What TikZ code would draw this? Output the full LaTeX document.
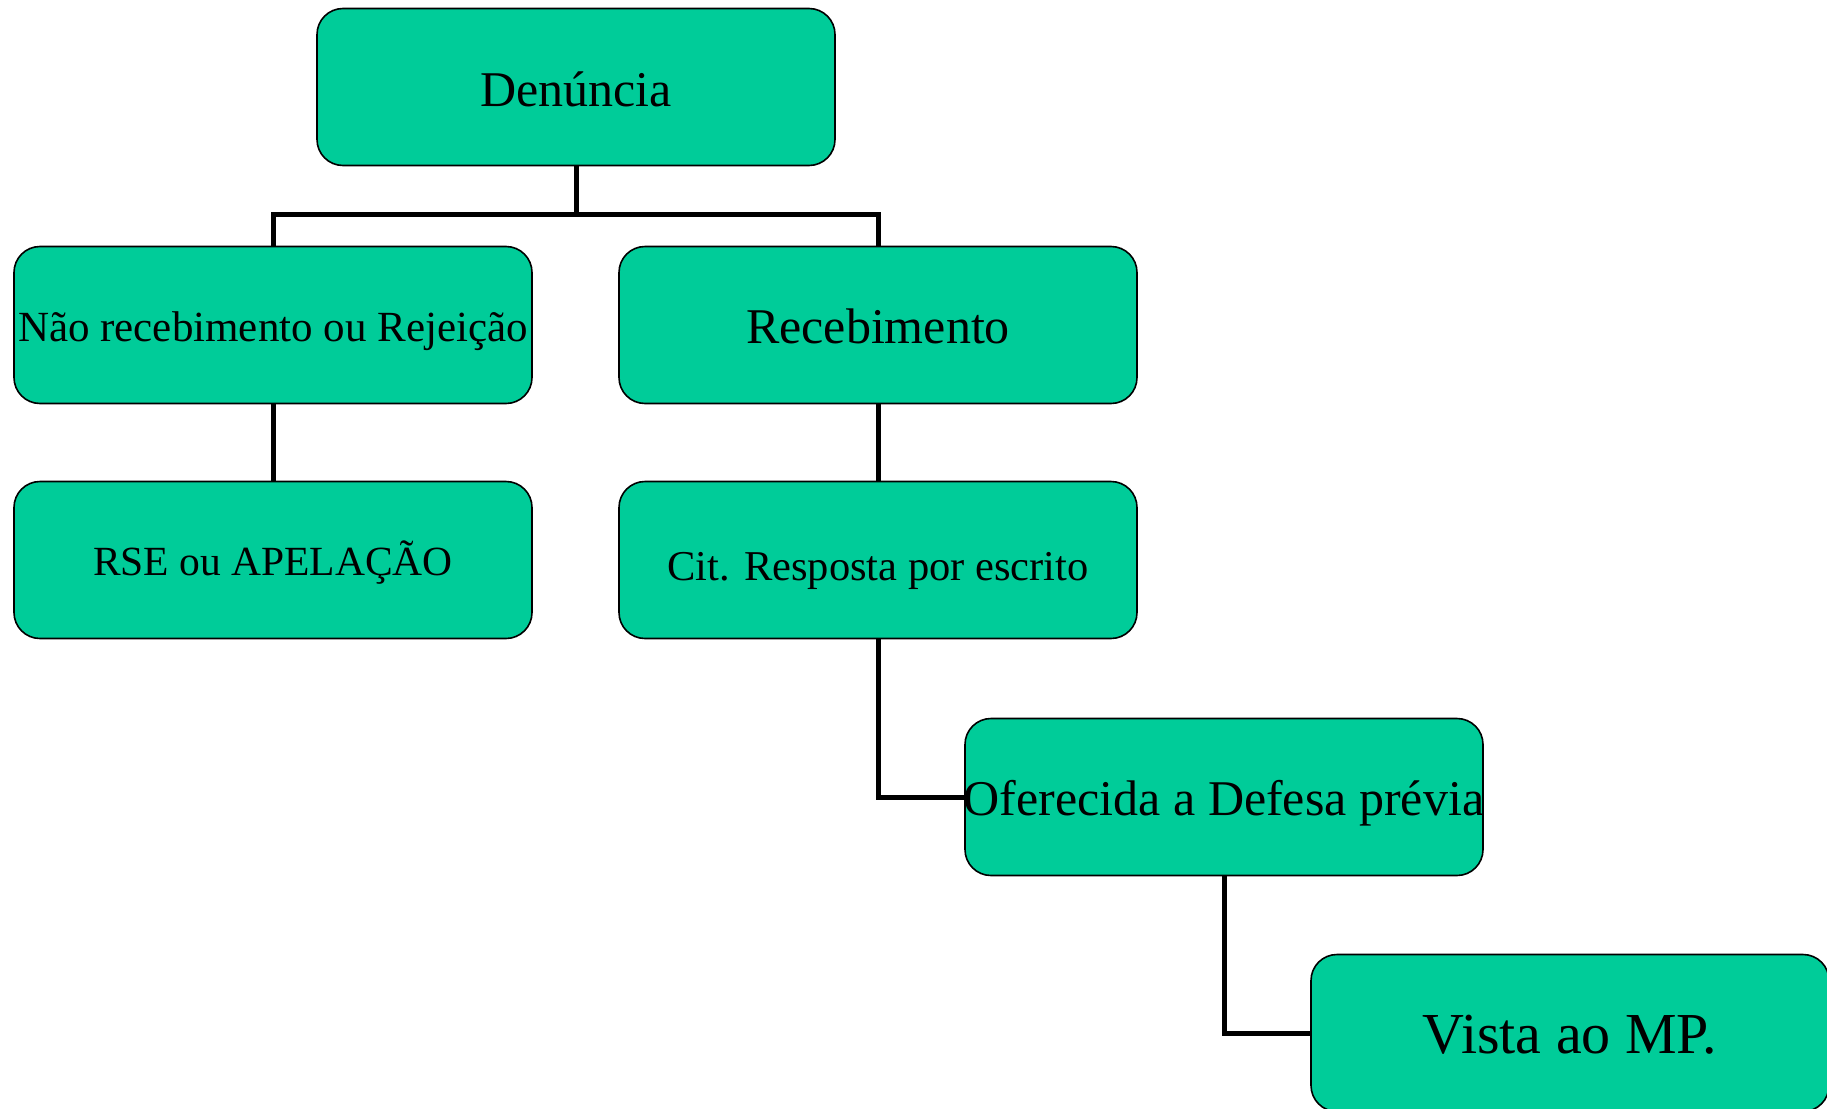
\documentclass[tikz,border=0pt]{standalone}
\usepackage{fontspec}
\setmainfont{Liberation Serif}
\definecolor{boxgreen}{RGB}{0,204,153}
\tikzset{
  box/.style={draw=black, line width=1.6pt, fill=boxgreen, rounded corners=26pt,
    minimum width=518pt, minimum height=157pt, inner sep=0pt, text=black},
  link/.style={draw=black, line width=5pt},
}
\newcommand{\bx}[3]{\fontsize{#1}{#1}\selectfont\raisebox{-#2pt}[\height][\depth]{\makebox[0pt]{#3}}}
\begin{document}
\begin{tikzpicture}[x=1pt,y=-1pt]
\useasboundingbox (0,0) rectangle (1827,1108);
\clip (0,0) rectangle (1827,1108);
\node[box] (den) at (576,87) {\bx{50}{2}{Denúncia}};
\node[box] (nao) at (273,325) {\bx{43}{6}{Não recebimento ou Rejeição}};
\node[box] (rec) at (878,325) {\bx{50}{1}{Recebimento}};
\node[box] (rse) at (273,560) {\bx{41.5}{3}{RSE ou APELAÇÃO}};
\node[box] (cit) at (878,560) {\bx{42.5}{11}{Cit. Resposta por escrito}};
\node[box] (ofer) at (1224,797) {\bx{50}{6}{Oferecida a Defesa prévia}};
\node[box] (vista) at (1570,1033) {\bx{58}{2}{Vista ao MP.}};
\coordinate (bar) at (576,214);
\draw[link] (den.south) -- (bar);
\draw[link] (nao.north) |- (bar) -| (rec.north);
\draw[link] (nao.south) -- (rse.north);
\draw[link] (rec.south) -- (cit.north);
\draw[link] (cit.south) |- (ofer.west);
\draw[link] (ofer.south) |- (vista.west);
\end{tikzpicture}
\end{document}
